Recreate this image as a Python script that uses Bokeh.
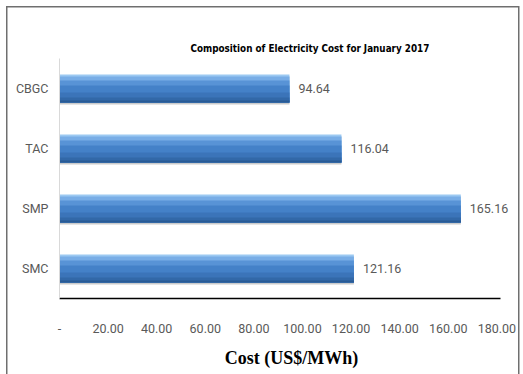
from bokeh.plotting import figure
from bokeh.models import FixedTicker, ColumnDataSource, Range1d, FactorRange, LabelSet
from bokeh.transform import dodge
from bokeh.core.properties import value
from bokeh.embed import file_html
from bokeh.resources import INLINE

categories = ["SMC", "SMP", "TAC", "CBGC"]
costs = [121.16, 165.16, 116.04, 94.64]
value_labels = ["121.16", "165.16", "116.04", "94.64"]
tick_values = [0, 20, 40, 60, 80, 100, 120, 140, 160, 180]
tick_labels = ["-", "20.00", "40.00", "60.00", "80.00", "100.00", "120.00", "140.00", "160.00", "180.00"]
chart_title = "Composition of Electricity Cost for January 2017"
x_title = "Cost (US$/MWh)"

FONT = "Roboto"
GRAY = "#595959"
LINE = "#6f6f6f"

src = ColumnDataSource(dict(cat=categories, cost=costs, lab=value_labels))

scale = 441 / 181.5
x_end = 464 / scale

p = figure(width=523, height=374, output_backend="svg", toolbar_location=None,
           x_range=Range1d(0, x_end), y_range=FactorRange(*categories, range_padding=0),
           min_border_left=59, min_border_right=0, min_border_top=58, min_border_bottom=76,
           title=chart_title)

p.title.text_font = "DejaVu Sans Condensed"
p.title.text_font_size = "9.8px"
p.title.text_font_style = "bold"
p.title.align = "left"
p.title.offset = 131
p.title.text_color = "black"

p.outline_line_color = None
p.xgrid.visible = False
p.ygrid.visible = False
p.background_fill_color = None
p.border_fill_color = None
g = f"linear-gradient({LINE},{LINE})"
p.styles = {
    "background": (f"{g} 6px 6px / 1.5px 100% no-repeat, "
                   f"{g} 6px 6px / 513px 1.5px no-repeat, "
                   f"{g} 518px 6px / 1.5px 100% no-repeat, white")
}

px = 1.0 / 60.0
bar_h = 28
# shadow
p.hbar(y=dodge("cat", -2 * px, range=p.y_range), left=0, right="cost", height=bar_h * px,
       source=src, fill_color="#8c8c8c", fill_alpha=0.45, line_color=None)
# gradient layers: each covers from its top to bar bottom
strips = [(2, "#9cc9f2"), (4, "#78ade6"), (5, "#5893d6"), (7, "#4481c8"),
          (5, "#3b74b9"), (3, "#3268a8"), (2, "#295a94")]
top = bar_h / 2.0
bottom = -bar_h / 2.0
for h, c in strips:
    hh = top - bottom
    center = (top + bottom) / 2.0
    p.hbar(y=dodge("cat", center * px, range=p.y_range), left=0, right="cost",
           height=hh * px, source=src, fill_color=c, line_color=None)
    top -= h

labels = LabelSet(x="cost", y="cat", text="lab", source=src, x_offset=9,
                  text_baseline="middle", text_align="left",
                  text_font=value(FONT), text_font_size=value("12.5px"), text_color=GRAY)
p.add_layout(labels)

xa = p.xaxis[0]
xa.ticker = FixedTicker(ticks=tick_values)
xa.bounds = (0, 181.5)
xa.major_label_overrides = {v: l for v, l in zip(tick_values, tick_labels)}
xa.major_tick_line_color = None
xa.minor_tick_line_color = None
xa.axis_line_color = "black"
xa.axis_line_width = 1.5
xa.major_label_standoff = 19
xa.major_label_text_font = FONT
xa.major_label_text_font_size = "12.5px"
xa.major_label_text_color = GRAY
xa.axis_label = x_title
xa.axis_label_text_font = "Liberation Serif"
xa.axis_label_text_font_style = "bold"
xa.axis_label_text_font_size = "18px"
xa.axis_label_text_color = "black"
xa.axis_label_standoff = 12

ya = p.yaxis[0]
ya.major_tick_line_color = None
ya.minor_tick_line_color = None
ya.axis_line_color = "#d9d9d9"
ya.major_label_standoff = 5
ya.major_label_text_font = FONT
ya.major_label_text_font_size = "12.5px"
ya.major_label_text_color = GRAY

open("out.html", "w").write(file_html(p, INLINE))
